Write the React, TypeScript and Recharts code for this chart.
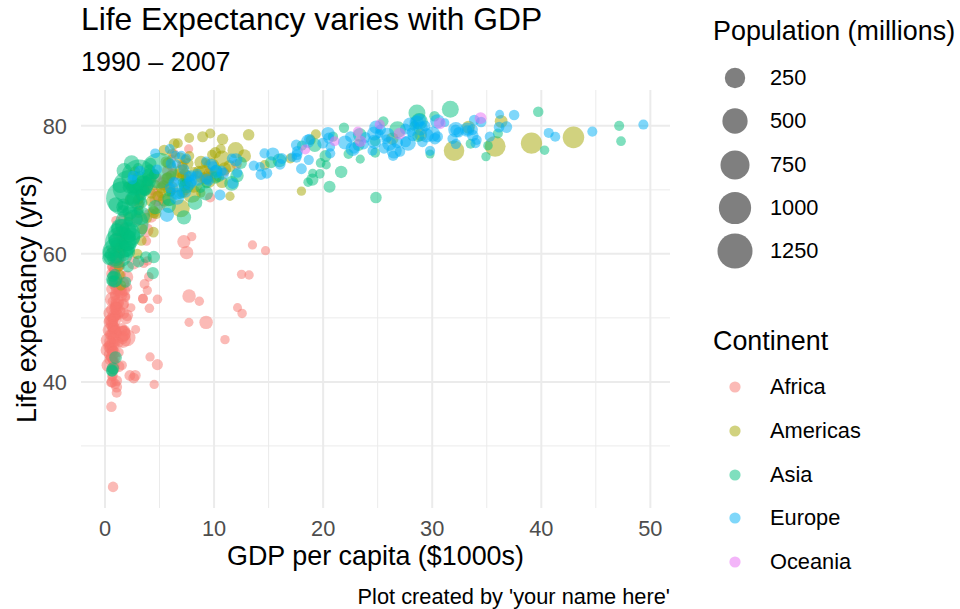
import { ScatterChart, Scatter, XAxis, YAxis, CartesianGrid } from "recharts";

// [gdp per capita ($1000s), life expectancy (yrs), population (millions)] for 1992, 1997, 2002, 2007
type Row = [number, number, number];

const africa: Row[] = [
  [5.02, 67.7, 26.3], [4.8, 69.2, 29.1], [5.29, 71.0, 31.3], [6.22, 72.3, 33.3],
  [2.63, 40.6, 8.7], [2.28, 41.0, 9.9], [2.77, 41.0, 10.9], [4.8, 42.7, 12.4],
  [1.19, 53.9, 5.0], [1.23, 54.8, 6.1], [1.37, 54.4, 7.0], [1.44, 56.7, 8.1],
  [7.95, 62.7, 1.3], [8.65, 52.6, 1.5], [11.0, 46.6, 1.6], [12.57, 50.7, 1.6],
  [0.93, 50.3, 8.9], [0.95, 50.3, 10.4], [1.04, 50.7, 12.3], [1.22, 52.3, 14.3],
  [0.63, 44.7, 5.8], [0.46, 45.3, 6.1], [0.45, 47.4, 7.0], [0.43, 49.6, 8.4],
  [1.79, 54.3, 12.5], [1.69, 52.2, 14.2], [1.93, 49.9, 15.9], [2.04, 50.4, 17.7],
  [0.75, 49.4, 3.3], [0.74, 46.1, 3.7], [0.74, 43.3, 4.0], [0.71, 44.7, 4.4],
  [1.06, 51.7, 6.4], [1.0, 51.6, 7.6], [1.16, 50.5, 8.8], [1.7, 50.7, 10.2],
  [1.25, 57.9, 0.45], [1.17, 60.7, 0.53], [1.08, 63.0, 0.61], [0.99, 65.2, 0.71],
  [0.46, 45.5, 41.7], [0.31, 42.6, 47.8], [0.24, 45.0, 55.4], [0.28, 46.5, 64.6],
  [4.02, 56.4, 2.4], [3.48, 53.0, 2.8], [3.48, 53.0, 3.3], [3.63, 55.3, 3.8],
  [1.65, 52.0, 12.8], [1.79, 48.0, 14.6], [1.61, 46.8, 16.3], [1.54, 48.3, 18.0],
  [2.38, 51.6, 0.38], [1.9, 53.2, 0.42], [1.91, 53.4, 0.45], [2.08, 54.8, 0.5],
  [3.79, 63.7, 59.4], [4.17, 66.0, 66.1], [4.75, 68.6, 73.3], [5.58, 71.3, 80.3],
  [1.13, 47.5, 0.39], [2.81, 48.2, 0.44], [7.7, 49.3, 0.5], [12.15, 51.6, 0.55],
  [0.58, 50.0, 3.7], [0.91, 53.4, 4.1], [0.77, 55.2, 4.4], [0.64, 58.0, 4.9],
  [0.42, 48.1, 52.1], [0.52, 49.4, 59.9], [0.53, 50.7, 67.0], [0.69, 52.9, 76.5],
  [13.52, 61.4, 1.0], [14.72, 60.5, 1.1], [12.52, 56.8, 1.3], [13.21, 56.7, 1.45],
  [0.67, 52.6, 1.0], [0.65, 55.9, 1.2], [0.66, 58.0, 1.5], [0.75, 59.4, 1.7],
  [0.93, 57.5, 16.3], [1.0, 58.6, 18.4], [1.11, 58.5, 20.6], [1.33, 60.0, 22.9],
  [0.79, 48.6, 7.0], [0.87, 51.5, 8.0], [0.95, 53.7, 8.8], [0.94, 56.0, 9.9],
  [0.75, 43.3, 1.05], [0.8, 44.9, 1.2], [0.58, 45.5, 1.3], [0.58, 46.4, 1.5],
  [1.34, 59.3, 25.0], [1.36, 54.4, 28.3], [1.29, 51.0, 31.4], [1.46, 54.1, 35.6],
  [1.18, 59.7, 1.8], [1.19, 55.6, 2.0], [1.28, 44.6, 2.0], [1.57, 42.6, 2.0],
  [0.64, 40.8, 1.9], [0.61, 42.2, 2.2], [0.53, 43.8, 2.8], [0.41, 45.7, 3.2],
  [9.64, 68.8, 4.4], [9.47, 71.6, 4.8], [9.53, 72.7, 5.4], [12.06, 74.0, 6.0],
  [1.04, 52.2, 12.2], [0.99, 55.0, 14.2], [0.89, 57.3, 16.5], [1.04, 59.4, 19.2],
  [0.58, 49.4, 10.0], [0.69, 47.5, 10.4], [0.67, 45.0, 11.8], [0.76, 48.3, 13.3],
  [0.74, 48.4, 8.4], [0.79, 49.9, 9.4], [0.95, 51.8, 10.6], [1.04, 54.5, 12.0],
  [1.36, 58.3, 2.1], [1.48, 60.4, 2.4], [1.58, 62.2, 2.8], [1.8, 64.2, 3.3],
  [6.06, 69.7, 1.1], [7.43, 70.7, 1.15], [9.02, 72.0, 1.2], [10.96, 72.8, 1.25],
  [2.95, 65.4, 25.6], [2.98, 67.7, 28.5], [3.26, 69.6, 31.2], [3.82, 71.2, 33.8],
  [0.41, 44.3, 13.2], [0.47, 46.3, 16.6], [0.63, 44.0, 18.5], [0.82, 42.1, 20.0],
  [3.8, 62.0, 1.55], [3.9, 58.9, 1.8], [4.07, 51.5, 2.0], [4.81, 52.9, 2.1],
  [0.58, 47.4, 8.4], [0.58, 51.3, 9.7], [0.6, 54.5, 11.1], [0.62, 56.9, 12.9],
  [1.62, 47.5, 93.4], [1.62, 47.5, 106.2], [1.62, 46.6, 119.9], [2.01, 46.9, 135.0],
  [6.1, 73.6, 0.62], [6.07, 74.8, 0.68], [6.32, 75.7, 0.74], [7.67, 76.4, 0.8],
  [0.74, 23.6, 7.3], [0.59, 36.1, 7.2], [0.79, 43.4, 7.9], [0.86, 46.2, 8.9],
  [1.43, 62.7, 0.13], [1.34, 63.3, 0.15], [1.35, 64.3, 0.17], [1.6, 65.5, 0.2],
  [1.37, 58.2, 8.3], [1.39, 60.2, 9.5], [1.52, 61.6, 10.9], [1.71, 63.1, 12.3],
  [1.07, 38.3, 4.3], [0.57, 39.9, 4.6], [0.7, 41.0, 5.4], [0.86, 42.6, 6.1],
  [0.93, 39.7, 6.1], [0.95, 43.8, 6.6], [0.88, 45.9, 7.8], [0.93, 48.2, 9.1],
  [7.23, 61.9, 40.0], [7.48, 60.2, 42.8], [7.71, 53.4, 44.4], [9.27, 49.3, 44.0],
  [1.49, 53.6, 28.2], [1.63, 55.4, 32.2], [1.99, 56.4, 37.1], [2.6, 58.6, 42.3],
  [3.55, 58.5, 0.96], [3.88, 54.3, 1.05], [4.13, 43.9, 1.1], [4.51, 39.6, 1.1],
  [0.83, 50.4, 26.6], [0.79, 48.5, 30.7], [0.9, 49.7, 34.6], [1.11, 52.5, 38.1],
  [1.03, 58.1, 3.7], [0.98, 58.4, 4.3], [0.89, 57.6, 5.0], [0.88, 58.4, 5.7],
  [4.33, 70.0, 8.5], [4.68, 72.0, 9.2], [5.72, 73.0, 9.8], [7.09, 73.9, 10.3],
  [0.64, 48.8, 18.3], [0.82, 44.6, 21.2], [0.93, 47.8, 24.7], [1.06, 51.5, 29.2],
  [1.21, 46.1, 8.4], [1.07, 40.2, 9.4], [1.07, 39.2, 10.6], [1.27, 42.4, 11.7],
  [0.69, 60.4, 10.7], [0.79, 46.8, 11.4], [0.67, 40.0, 11.9], [0.47, 43.5, 12.3],
];

const americas: Row[] = [
  [9.31, 71.9, 34.0], [10.97, 73.3, 36.2], [8.8, 74.3, 38.3], [12.78, 75.3, 40.3],
  [2.96, 60.0, 6.9], [3.33, 62.1, 7.7], [3.41, 63.9, 8.4], [3.82, 65.6, 9.1],
  [6.95, 67.1, 156.0], [7.96, 69.4, 168.5], [8.13, 71.0, 179.9], [9.07, 72.4, 190.0],
  [26.34, 78.0, 28.5], [28.95, 78.6, 30.3], [33.33, 79.8, 31.9], [36.32, 80.7, 33.4],
  [7.6, 74.1, 13.6], [10.12, 75.8, 14.6], [10.78, 77.9, 15.5], [13.17, 78.6, 16.3],
  [5.44, 68.4, 34.2], [6.12, 70.3, 37.7], [5.76, 71.7, 41.0], [7.01, 72.9, 44.2],
  [6.16, 75.7, 3.2], [6.68, 77.3, 3.5], [7.72, 78.1, 3.8], [9.65, 78.8, 4.1],
  [5.59, 74.4, 10.7], [5.43, 76.2, 11.0], [6.34, 77.2, 11.2], [8.95, 78.3, 11.4],
  [3.04, 68.5, 7.4], [3.61, 70.0, 8.0], [4.56, 70.8, 8.7], [6.03, 72.2, 9.3],
  [7.1, 69.6, 10.7], [7.43, 72.3, 11.9], [5.77, 74.2, 12.9], [6.87, 75.0, 13.8],
  [4.44, 66.8, 5.3], [5.15, 69.5, 5.8], [5.35, 70.7, 6.4], [5.73, 71.9, 6.9],
  [4.44, 63.4, 8.5], [4.68, 66.3, 9.8], [4.86, 69.0, 11.2], [5.19, 70.3, 12.6],
  [1.46, 55.1, 6.3], [1.34, 56.7, 6.9], [1.27, 58.1, 7.6], [1.2, 60.9, 8.5],
  [3.08, 66.4, 5.1], [3.16, 67.7, 5.9], [3.1, 68.6, 6.7], [3.55, 70.2, 7.5],
  [7.4, 71.8, 2.4], [7.12, 72.3, 2.5], [6.99, 72.0, 2.7], [7.32, 72.6, 2.8],
  [9.47, 71.5, 88.1], [9.77, 73.7, 95.9], [10.74, 74.9, 102.5], [11.98, 76.2, 108.7],
  [2.17, 65.8, 4.0], [2.25, 68.4, 4.6], [2.47, 70.8, 5.1], [2.75, 72.9, 5.7],
  [6.62, 72.5, 2.5], [7.11, 73.7, 2.7], [7.36, 74.7, 3.0], [9.81, 75.5, 3.2],
  [4.2, 68.2, 4.5], [4.25, 69.4, 5.2], [3.78, 70.8, 5.9], [4.17, 71.8, 6.7],
  [4.45, 66.5, 22.4], [5.84, 68.4, 24.7], [5.91, 69.9, 26.8], [7.41, 71.4, 28.7],
  [14.64, 73.9, 3.6], [16.99, 74.9, 3.8], [18.86, 77.8, 3.9], [19.33, 78.7, 3.9],
  [7.37, 69.9, 1.2], [8.79, 69.5, 1.1], [11.46, 69.0, 1.1], [18.01, 69.8, 1.06],
  [32.0, 76.1, 256.9], [35.77, 76.8, 272.9], [39.1, 77.3, 287.7], [42.95, 78.2, 301.1],
  [8.14, 72.8, 3.1], [9.23, 74.2, 3.3], [7.73, 75.3, 3.4], [10.61, 76.4, 3.4],
  [10.73, 71.2, 20.3], [10.17, 72.1, 22.4], [8.61, 72.8, 24.3], [11.42, 73.7, 26.1],
];

const asia: Row[] = [
  [0.65, 41.7, 16.3], [0.64, 41.8, 22.2], [0.73, 42.1, 25.3], [0.97, 43.8, 31.9],
  [19.04, 72.6, 0.53], [20.29, 73.9, 0.6], [23.4, 74.8, 0.66], [29.8, 75.6, 0.71],
  [0.84, 56.0, 113.7], [0.97, 59.4, 123.3], [1.14, 62.0, 135.7], [1.39, 64.1, 150.4],
  [0.68, 55.8, 10.2], [0.73, 56.5, 11.8], [0.9, 56.8, 12.9], [1.71, 59.7, 14.1],
  [1.66, 68.7, 1165.0], [2.29, 70.4, 1230.1], [3.12, 72.0, 1280.4], [4.96, 73.0, 1318.7],
  [24.76, 77.6, 5.8], [28.38, 80.0, 6.5], [30.21, 81.5, 6.8], [39.72, 82.2, 7.0],
  [1.16, 60.2, 872.0], [1.46, 61.8, 959.0], [1.75, 62.9, 1034.2], [2.45, 64.7, 1110.4],
  [2.38, 62.7, 184.8], [3.26, 66.0, 199.3], [2.87, 68.6, 211.1], [3.54, 70.7, 223.5],
  [7.24, 65.7, 60.4], [8.26, 68.0, 63.5], [9.24, 69.5, 66.9], [11.61, 71.0, 69.5],
  [3.75, 59.5, 17.9], [3.08, 58.8, 20.8], [4.39, 57.0, 24.0], [4.47, 59.5, 27.5],
  [18.05, 76.9, 4.9], [20.9, 78.3, 5.5], [21.91, 79.7, 6.0], [25.52, 80.7, 6.4],
  [26.82, 79.4, 124.3], [28.82, 80.7, 126.0], [28.6, 82.0, 127.1], [31.66, 82.6, 127.5],
  [3.43, 68.0, 3.9], [3.65, 69.8, 4.5], [3.84, 71.3, 5.3], [4.52, 72.5, 6.1],
  [3.73, 70.0, 20.7], [1.69, 67.7, 21.6], [1.65, 66.7, 22.2], [1.59, 67.3, 23.3],
  [12.1, 72.2, 43.8], [15.99, 74.6, 46.2], [19.23, 77.0, 48.0], [23.35, 78.6, 49.0],
  [34.93, 75.2, 1.4], [40.3, 76.2, 1.8], [35.11, 76.9, 2.1], [47.31, 77.6, 2.5],
  [6.89, 69.3, 3.2], [8.75, 70.3, 3.4], [9.31, 71.0, 3.7], [10.46, 72.0, 3.9],
  [7.28, 70.7, 18.3], [10.13, 71.9, 20.5], [10.21, 73.0, 22.7], [12.45, 74.2, 24.8],
  [1.79, 61.3, 2.3], [1.9, 63.6, 2.5], [2.14, 65.0, 2.7], [3.1, 66.8, 2.9],
  [0.35, 59.3, 40.5], [0.42, 60.3, 43.2], [0.61, 59.9, 45.6], [0.94, 62.1, 47.8],
  [0.9, 55.7, 20.3], [1.01, 59.4, 23.0], [1.06, 61.3, 25.9], [1.09, 63.8, 28.9],
  [18.62, 71.2, 1.9], [19.7, 72.5, 2.3], [19.77, 74.2, 2.7], [22.32, 75.6, 3.2],
  [1.97, 60.8, 120.1], [2.05, 61.8, 135.6], [2.09, 63.6, 153.4], [2.61, 65.5, 169.3],
  [2.28, 66.5, 67.2], [2.54, 68.6, 75.0], [2.65, 70.3, 83.0], [3.19, 71.7, 91.1],
  [24.84, 68.8, 16.9], [20.59, 70.5, 21.2], [19.01, 71.6, 24.5], [21.65, 72.8, 27.6],
  [24.77, 75.8, 3.2], [33.52, 77.2, 3.8], [36.02, 78.8, 4.2], [47.14, 80.0, 4.6],
  [2.15, 70.4, 17.6], [2.66, 70.5, 18.7], [3.02, 70.8, 19.6], [3.97, 72.4, 20.4],
  [3.34, 69.2, 13.2], [4.01, 71.5, 15.1], [4.09, 73.1, 17.2], [4.18, 74.1, 19.3],
  [15.22, 74.3, 20.9], [20.21, 75.3, 21.6], [23.24, 77.0, 22.5], [28.72, 78.4, 23.2],
  [4.62, 67.3, 56.7], [5.85, 67.5, 60.2], [5.91, 68.6, 62.8], [7.46, 70.6, 65.1],
  [0.99, 67.7, 69.9], [1.39, 70.7, 76.0], [1.76, 73.0, 80.9], [2.44, 74.2, 85.3],
  [6.02, 69.7, 2.1], [7.11, 71.1, 2.8], [4.52, 72.4, 3.4], [3.03, 73.4, 4.0],
  [1.88, 55.6, 13.4], [2.12, 58.0, 15.8], [2.23, 60.3, 18.7], [2.28, 62.7, 22.2],
];

const europe: Row[] = [
  [2.5, 71.6, 3.3], [3.19, 73.0, 3.4], [4.6, 75.7, 3.5], [5.94, 76.4, 3.6],
  [27.04, 76.0, 7.9], [29.1, 77.5, 8.1], [32.42, 79.0, 8.1], [36.13, 79.8, 8.2],
  [25.58, 76.5, 10.0], [27.56, 77.5, 10.2], [30.49, 78.3, 10.3], [33.69, 79.4, 10.4],
  [2.55, 72.2, 4.3], [4.77, 73.2, 3.6], [6.02, 74.1, 4.2], [7.45, 74.9, 4.6],
  [6.3, 71.2, 8.7], [5.97, 70.3, 8.1], [7.7, 72.1, 7.7], [10.68, 73.0, 7.3],
  [8.45, 72.5, 4.5], [9.88, 73.7, 4.4], [11.63, 74.9, 4.5], [14.62, 75.7, 4.5],
  [14.3, 72.4, 10.3], [16.05, 74.0, 10.3], [17.6, 75.5, 10.3], [22.83, 76.5, 10.2],
  [26.41, 75.3, 5.2], [29.8, 76.1, 5.3], [32.17, 77.2, 5.4], [35.28, 78.3, 5.5],
  [20.65, 75.7, 5.0], [23.72, 77.1, 5.1], [28.2, 78.4, 5.2], [33.21, 79.3, 5.2],
  [24.7, 77.5, 57.4], [25.89, 78.6, 58.6], [28.93, 79.6, 59.9], [30.47, 80.7, 61.1],
  [26.51, 76.1, 80.6], [27.79, 77.3, 82.0], [30.04, 78.7, 82.4], [32.17, 79.4, 82.4],
  [17.54, 77.0, 10.3], [18.75, 77.9, 10.5], [22.51, 78.3, 10.6], [27.54, 79.5, 10.7],
  [10.54, 69.2, 10.3], [11.71, 71.0, 10.2], [14.84, 72.6, 10.1], [18.01, 73.3, 10.0],
  [25.14, 78.8, 0.26], [28.06, 79.0, 0.27], [31.16, 80.5, 0.29], [36.18, 81.8, 0.3],
  [17.56, 75.0, 3.6], [24.52, 76.1, 3.7], [34.08, 77.8, 3.9], [40.68, 78.9, 4.1],
  [22.01, 77.4, 56.8], [24.68, 78.8, 57.5], [27.97, 80.2, 57.9], [28.57, 80.5, 58.1],
  [7.0, 75.4, 0.62], [6.47, 75.4, 0.69], [6.56, 74.0, 0.72], [9.25, 74.5, 0.68],
  [26.79, 77.4, 15.2], [30.25, 78.0, 15.6], [33.72, 78.5, 16.1], [36.8, 79.8, 16.6],
  [33.97, 77.3, 4.3], [41.28, 78.3, 4.4], [44.68, 79.1, 4.5], [49.36, 80.2, 4.6],
  [7.74, 71.0, 38.4], [10.16, 72.8, 38.7], [12.0, 74.7, 38.6], [15.39, 75.6, 38.5],
  [16.21, 74.9, 9.9], [17.64, 76.0, 10.2], [19.97, 77.3, 10.4], [20.51, 78.1, 10.6],
  [6.6, 69.4, 22.8], [7.35, 69.7, 22.6], [7.89, 71.3, 22.4], [10.81, 72.5, 22.3],
  [9.33, 71.7, 9.8], [7.91, 72.2, 10.3], [7.24, 73.2, 10.1], [9.79, 74.0, 10.2],
  [9.5, 71.4, 5.3], [12.13, 72.7, 5.4], [13.64, 73.8, 5.4], [18.68, 74.7, 5.4],
  [14.21, 73.6, 2.0], [17.16, 75.1, 2.0], [20.66, 76.7, 2.0], [25.77, 77.9, 2.0],
  [18.6, 77.6, 39.5], [20.45, 78.8, 39.9], [24.84, 79.8, 40.2], [28.82, 80.9, 40.4],
  [23.88, 78.2, 8.7], [25.27, 79.4, 8.9], [29.34, 80.0, 8.9], [33.86, 80.9, 9.0],
  [31.87, 78.0, 7.0], [32.14, 79.4, 7.2], [34.48, 80.6, 7.4], [37.51, 81.7, 7.6],
  [5.68, 66.1, 58.2], [6.6, 68.8, 63.0], [6.51, 70.8, 67.3], [8.46, 71.8, 71.2],
  [22.71, 76.4, 57.9], [26.07, 77.2, 58.8], [29.48, 78.5, 59.9], [33.2, 79.4, 60.8],
];

const oceania: Row[] = [
  [23.42, 77.6, 17.5], [27.0, 78.8, 18.6], [30.69, 80.4, 19.5], [34.44, 81.2, 20.4],
  [18.36, 76.3, 3.4], [21.05, 77.6, 3.7], [23.19, 79.1, 3.9], [25.19, 80.2, 4.1],
];

const continents = ["Africa", "Americas", "Asia", "Europe", "Oceania"];
const continentRows = [africa, americas, asia, europe, oceania];
const colors = ["#F8766D", "#A3A500", "#00BF7D", "#00B0F6", "#E76BF3"];
const popBreaks = [250, 500, 750, 1000, 1250];
const xTicks = [0, 10, 20, 30, 40, 50];
const xMinor = [5, 15, 25, 35, 45];
const yTicks = [40, 60, 80];
const yMinor = [30, 50, 70];

const FONT = "'Liberation Sans', Arial, Helvetica, sans-serif";
const BASE = 26.9;
const SMALL = 21.8;

// bubble radius in px from population (millions)
const radius = (pop: number) => (8.5 + 0.75 * Math.sqrt(pop)) / 2;

const toPoints = (rows: Row[]) => rows.map(([x, y, pop]) => ({ x, y, pop }));

function Txt(props: { x: number; y: number; size: number; children: any; align?: "left" | "right" | "center"; color?: string }) {
  const { x, y, size, align = "left", color = "#000" } = props;
  const tx = align === "left" ? "0" : align === "right" ? "-100%" : "-50%";
  return (
    <div
      style={{
        position: "absolute",
        left: x,
        top: y,
        transform: `translate(${tx}, -50%)`,
        fontSize: size,
        lineHeight: 1,
        color,
        whiteSpace: "nowrap",
      }}
    >
      {props.children}
    </div>
  );
}

export default function App() {
  return (
    <div style={{ position: "absolute", left: 0, top: 0, width: 960, height: 609, background: "#fff", fontFamily: FONT }}>
      <ScatterChart width={960} height={609} margin={{ top: 90, right: 290, bottom: 0, left: 0 }}>
        <CartesianGrid horizontalValues={yMinor} verticalValues={xMinor} stroke="#EBEBEB" strokeWidth={1} />
        <CartesianGrid horizontalValues={yTicks} verticalValues={xTicks} stroke="#EBEBEB" strokeWidth={2} />
        <XAxis
          type="number"
          dataKey="x"
          domain={[-2.2, 51.8]}
          ticks={xTicks}
          interval={0}
          allowDataOverflow
          axisLine={false}
          tickLine={false}
          tickSize={0}
          tickMargin={13}
          height={101}
          tick={{ fill: "#4D4D4D", fontSize: SMALL }}
        />
        <YAxis
          type="number"
          dataKey="y"
          domain={[20.3, 85.6]}
          ticks={yTicks}
          interval={0}
          allowDataOverflow
          axisLine={false}
          tickLine={false}
          tickSize={0}
          tickMargin={14}
          width={81}
          tick={{ fill: "#4D4D4D", fontSize: SMALL }}
        />
        {continentRows.map((rows, i) => (
          <Scatter
            key={continents[i]}
            name={continents[i]}
            data={toPoints(rows)}
            isAnimationActive={false}
            shape={(p: any) => (
              <circle cx={p.cx} cy={p.cy} r={radius(p.payload.pop)} fill={colors[i]} fillOpacity={0.5} />
            )}
          />
        ))}
      </ScatterChart>

      <Txt x={81} y={20} size={31.8}>Life Expectancy varies with GDP</Txt>
      <Txt x={81} y={62} size={BASE}>1990 – 2007</Txt>
      <Txt x={375.5} y={556} size={BASE} align="center">GDP per capita ($1000s)</Txt>
      <div
        style={{
          position: "absolute",
          left: 27,
          top: 299,
          transform: "translate(-50%, -50%) rotate(-90deg)",
          fontSize: BASE,
          lineHeight: 1,
          whiteSpace: "nowrap",
        }}
      >
        Life expectancy (yrs)
      </div>
      <Txt x={670} y={597} size={SMALL} align="right">Plot created by 'your name here'</Txt>

      <Txt x={713} y={31} size={BASE}>Population (millions)</Txt>
      {popBreaks.map((b, i) => (
        <div key={b}>
          <svg style={{ position: "absolute", left: 715, top: 58 + i * 43.3 }} width={40} height={40}>
            <circle cx={20} cy={20} r={radius(b)} fill="#000" fillOpacity={0.5} />
          </svg>
          <Txt x={770} y={78 + i * 43.3} size={SMALL}>{b}</Txt>
        </div>
      ))}

      <Txt x={713} y={341} size={BASE}>Continent</Txt>
      {continents.map((c, i) => (
        <div key={c}>
          <svg style={{ position: "absolute", left: 725, top: 377 + i * 43.8 }} width={20} height={20}>
            <circle cx={10} cy={10} r={5.6} fill={colors[i]} fillOpacity={0.5} />
          </svg>
          <Txt x={770} y={387 + i * 43.8} size={SMALL}>{c}</Txt>
        </div>
      ))}
    </div>
  );
}
